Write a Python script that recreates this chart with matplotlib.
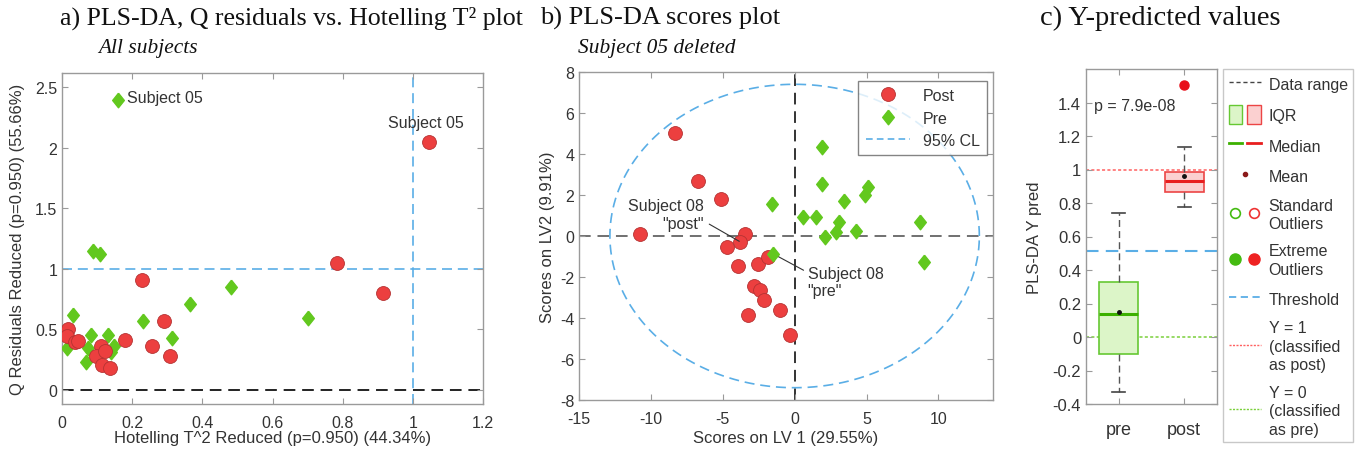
import matplotlib.pyplot as plt
import numpy as np
from matplotlib.patches import Patch
from matplotlib.lines import Line2D
from matplotlib.legend_handler import HandlerTuple

plt.rcParams['font.family'] = ['Liberation Sans', 'DejaVu Sans']
plt.rcParams['font.size'] = 11.5
plt.rcParams['axes.unicode_minus'] = False

RED = '#ec3f3f'
RED_EDGE = '#b53333'
GREEN = '#62c81e'
BLUE = '#5aaee6'
TXT = '#333333'
SPINE = '#9a9a9a'

# a) Q residuals vs Hotelling T^2 (all subjects)
a_post_x = [0.017, 0.015, 0.037, 0.047, 0.111, 0.096, 0.122, 0.114, 0.137,
            0.18, 0.228, 0.292, 0.256, 0.307, 0.784, 0.916, 1.046]
a_post_y = [0.50, 0.44, 0.39, 0.405, 0.36, 0.28, 0.32, 0.20, 0.18,
            0.41, 0.91, 0.57, 0.36, 0.275, 1.05, 0.80, 2.05]
a_pre_x = [0.16, 0.087, 0.108, 0.032, 0.015, 0.082, 0.075, 0.068, 0.132,
           0.147, 0.141, 0.23, 0.364, 0.313, 0.481, 0.70]
a_pre_y = [2.40, 1.15, 1.12, 0.62, 0.34, 0.455, 0.34, 0.23, 0.455,
           0.36, 0.31, 0.57, 0.71, 0.43, 0.85, 0.59]
q_limit = 1.0
t2_limit = 1.0

# b) scores plot (subject 05 deleted)
b_post_x = [-8.32, -6.73, -5.13, -10.77, -3.43, -3.78, -4.71, -3.96, -2.52,
            -1.82, -2.80, -2.40, -2.10, -1.0, -3.27, -0.30]
b_post_y = [5.04, 2.68, 1.79, 0.08, 0.08, -0.27, -0.54, -1.45, -1.35,
            -1.04, -2.44, -2.62, -3.14, -3.63, -3.87, -4.85]
b_pre_x = [1.91, 1.91, 5.13, 4.90, 3.40, 0.58, 1.52, 3.12, 2.88, 2.12,
           4.24, 8.69, 8.97, -1.59, -1.52]
b_pre_y = [4.34, 2.55, 2.40, 1.99, 1.69, 0.93, 0.93, 0.70, 0.19, -0.05,
           0.23, 0.66, -1.27, 1.58, -0.86]
cl_a, cl_b = 12.85, 7.4   # 95% confidence ellipse semi-axes
subj08_post = (-3.85, -0.26)
subj08_pre = (-1.52, -0.86)

# c) Y-predicted values
groups = ['pre', 'post']
q1 = [-0.10, 0.865]
med = [0.135, 0.93]
q3 = [0.33, 0.985]
whislo = [-0.33, 0.775]
whishi = [0.74, 1.135]
means = [0.15, 0.96]
fliers = [[], [1.505]]
threshold = 0.516

diamond = [(0, 1), (0.8, 0), (0, -1), (-0.8, 0), (0, 1)]

fig = plt.figure(figsize=(13.6, 4.64), dpi=100)


def style_axes(ax):
    for s in ax.spines.values():
        s.set_color(SPINE)
        s.set_linewidth(1.0)
    ax.tick_params(direction='in', top=True, right=True, length=4,
                   colors=TXT, labelsize=11.5)
    ax.tick_params(axis='both', color=SPINE)
    ax.tick_params(axis='x', pad=8)


# ---------- panel a ----------
ax1 = fig.add_axes([62 / 1360, 1 - 405 / 464, 421 / 1360, 331 / 464])
ax1.axhline(0, color='#222222', ls=(0, (6, 3.5)), lw=1.4, zorder=1)
ax1.axhline(q_limit, color=BLUE, ls=(0, (6, 3.5)), lw=1.2, zorder=1)
ax1.axvline(t2_limit, color=BLUE, ls=(0, (6, 3.5)), lw=1.2, zorder=1)
ax1.plot(a_pre_x, a_pre_y, ls='none', marker=diamond, ms=10.5, mfc=GREEN,
         mec=GREEN, zorder=3)
ax1.plot(a_post_x, a_post_y, ls='none', marker='o', ms=10, mfc=RED,
         mec=RED_EDGE, mew=0.6, zorder=3)
ax1.text(a_pre_x[0] + 0.025, a_pre_y[0] + 0.02, 'Subject 05', color=TXT,
         va='center', ha='left', fontsize=11.5)
ax1.text(a_post_x[-1] - 0.01, a_post_y[-1] + 0.16, 'Subject 05', color=TXT,
         va='center', ha='center', fontsize=11.5)
ax1.set_xlim(0, 1.2)
ax1.set_ylim(-0.12, 2.62)
ax1.set_xticks([0, 0.2, 0.4, 0.6, 0.8, 1, 1.2])
ax1.set_xticklabels(['0', '0.2', '0.4', '0.6', '0.8', '1', '1.2'])
ax1.set_yticks([0, 0.5, 1, 1.5, 2, 2.5])
ax1.set_yticklabels(['0', '0.5', '1', '1.5', '2', '2.5'])
ax1.set_xlabel('Hotelling T^2 Reduced (p=0.950) (44.34%)', color=TXT,
               fontsize=12)
ax1.set_ylabel('Q Residuals Reduced (p=0.950) (55.66%)', color=TXT,
               fontsize=12)
ax1.xaxis.set_label_coords(0.5, -0.08)
ax1.yaxis.set_label_coords(-0.088, 0.5)
style_axes(ax1)

# ---------- panel b ----------
ax2 = fig.add_axes([579 / 1360, 1 - 401 / 464, 414 / 1360, 328 / 464])
ax2.axhline(0, color='#707070', ls=(0, (6, 3.5)), lw=1.4, zorder=1)
ax2.axvline(0, color='#333333', ls=(0, (6, 3.5)), lw=1.4, zorder=1)
t = np.linspace(0, 2 * np.pi, 400)
ax2.plot(cl_a * np.cos(t), cl_b * np.sin(t), color=BLUE, ls=(0, (6, 3.5)),
         lw=1.2, zorder=1, label='95% CL')
hp, = ax2.plot(b_post_x, b_post_y, ls='none', marker='o', ms=10, mfc=RED,
               mec=RED_EDGE, mew=0.6, zorder=3, label='Post')
hr, = ax2.plot(b_pre_x, b_pre_y, ls='none', marker=diamond, ms=10.5,
               mfc=GREEN, mec=GREEN, zorder=4, label='Pre')
ax2.annotate('Subject 08\n"post"', xy=subj08_post, xytext=(-6.3, 1.04),
             ha='right', va='center', multialignment='right', color=TXT,
             fontsize=11.5,
             arrowprops=dict(arrowstyle='-', color='#333333', lw=0.8,
                             relpos=(1.0, 0.3), shrinkA=2, shrinkB=0))
ax2.annotate('Subject 08\n"pre"', xy=subj08_pre, xytext=(0.9, -2.25),
             ha='left', va='center', multialignment='left', color=TXT,
             fontsize=11.5,
             arrowprops=dict(arrowstyle='-', color='#333333', lw=0.8,
                             relpos=(0.0, 0.8), shrinkA=1, shrinkB=0))
ax2.set_xlim(-15, 13.8)
ax2.set_ylim(-8, 8)
ax2.set_xticks([-15, -10, -5, 0, 5, 10])
ax2.set_yticks(np.arange(-8, 9, 2))
ax2.set_xlabel('Scores on LV 1 (29.55%)', color=TXT, fontsize=12)
ax2.set_ylabel('Scores on LV2 (9.91%)', color=TXT, fontsize=12)
ax2.xaxis.set_label_coords(0.5, -0.09)
ax2.yaxis.set_label_coords(-0.058, 0.5)
style_axes(ax2)
ell_handle = Line2D([], [], color=BLUE, ls=(0, (4, 2.5)), lw=1.2)
leg2 = ax2.legend([hp, hr, ell_handle], ['Post', 'Pre', '95% CL'],
                  loc='upper right', fontsize=11.5, frameon=True,
                  fancybox=False, edgecolor='#666666', borderpad=0.45,
                  labelspacing=0.47, handlelength=2.8, borderaxespad=0,
                  bbox_to_anchor=(0.986, 0.973))
leg2.get_frame().set_linewidth(1.0)
for txt in leg2.get_texts():
    txt.set_color(TXT)

# ---------- panel c ----------
ax3 = fig.add_axes([1086 / 1360, 1 - 405 / 464, 131 / 1360, 335 / 464])
ax3.axhline(1, color='#ff6060', ls=(0, (2, 1.5)), lw=1.1, zorder=1)
ax3.axhline(0, color='#7ad03a', ls=(0, (2, 1.5)), lw=1.1, zorder=1)
ax3.axhline(threshold, color=BLUE, ls=(0, (6, 3.5)), lw=1.5, zorder=1)
stats = []
for i in range(2):
    stats.append(dict(label=groups[i], q1=q1[i], med=med[i], q3=q3[i],
                      whislo=whislo[i], whishi=whishi[i], mean=means[i],
                      fliers=fliers[i]))
bp = ax3.bxp(stats, positions=[1, 2], widths=0.6, patch_artist=True,
             showmeans=True, capwidths=0.2,
             whiskerprops=dict(color='#555555', ls=(0, (5, 3)), lw=1.0),
             capprops=dict(color='#444444', lw=1.2),
             meanprops=dict(marker='o', mfc='#111111', mec='#111111',
                            ms=2.5),
             flierprops=dict(marker='o', mfc='#e8101a', mec='#e8101a',
                             ms=6.5))
box_face = ['#dcf5c8', '#fbd0d0']
box_edge = ['#66c833', '#ec4545']
med_col = ['#3cb000', '#e81e1e']
for i in range(2):
    bp['boxes'][i].set(facecolor=box_face[i], edgecolor=box_edge[i], lw=1.2)
    bp['medians'][i].set(color=med_col[i], lw=2.2)
ax3.text(0.62, 1.385, 'p = 7.9e-08', color=TXT, fontsize=11.5, va='center')
ax3.set_xlim(0.5, 2.5)
ax3.set_ylim(-0.4, 1.6)
ax3.set_yticks(np.round(np.arange(-0.4, 1.41, 0.2), 1))
ax3.set_yticklabels(['-0.4', '-0.2', '0', '0.2', '0.4', '0.6', '0.8', '1',
                     '1.2', '1.4'])
ax3.set_ylabel('PLS-DA Y pred', color=TXT, fontsize=12)
ax3.yaxis.set_label_coords(-0.336, 0.5)
style_axes(ax3)
ax3.tick_params(axis='y', labelsize=12)
ax3.tick_params(axis='x', labelsize=13, pad=12)

h_range = Line2D([], [], color='#444444', ls=(0, (3, 2)), lw=1.0)
h_iqr = (Patch(facecolor=box_face[0], edgecolor=box_edge[0]),
         Patch(facecolor=box_face[1], edgecolor=box_edge[1]))
h_med = (Line2D([], [], color=med_col[0], lw=2),
         Line2D([], [], color=med_col[1], lw=2))
h_mean = Line2D([], [], ls='none', marker='o', ms=3, mfc='#8b1a1a',
                mec='#8b1a1a')
h_std = (Line2D([], [], ls='none', marker='o', ms=7, mfc='none',
                mec='#44bb11', mew=1.2),
         Line2D([], [], ls='none', marker='o', ms=7, mfc='none',
                mec='#ee3333', mew=1.2))
h_ext = (Line2D([], [], ls='none', marker='o', ms=8, mfc='#44bb11',
                mec='#44bb11'),
         Line2D([], [], ls='none', marker='o', ms=8, mfc='#ee2222',
                mec='#ee2222'))
h_thr = Line2D([], [], color=BLUE, ls=(0, (4, 2.5)), lw=1.3)
h_y1 = Line2D([], [], color='#ff6060', ls=(0, (1.5, 1)), lw=1.0)
h_y0 = Line2D([], [], color='#7ad03a', ls=(0, (1.5, 1)), lw=1.0)
leg3 = fig.legend([h_range, h_iqr, h_med, h_mean, h_std, h_ext, h_thr,
                   h_y1, h_y0],
                  ['Data range', 'IQR', 'Median', 'Mean',
                   'Standard\nOutliers', 'Extreme\nOutliers', 'Threshold',
                   'Y = 1\n(classified\nas post)',
                   'Y = 0\n(classified\nas pre)'],
                  handler_map={tuple: HandlerTuple(ndivide=None, pad=0.3)},
                  loc='upper left', bbox_to_anchor=(1223 / 1360, 1 - 70 / 464),
                  fontsize=11.5, frameon=True, fancybox=False,
                  edgecolor='#bbbbbb', handlelength=2.0, handleheight=1.4,
                  labelspacing=0.77, borderpad=0.35, handletextpad=0.5,
                  borderaxespad=0)
for txt in leg3.get_texts():
    txt.set_color(TXT)
    txt.set_linespacing(1.3)

# ---------- titles ----------
serif = ['Liberation Serif', 'DejaVu Serif']
fig.text(60 / 1360, 1 - 18 / 464, 'a) PLS-DA, Q residuals vs. Hotelling T² plot',
         family=serif, fontsize=18.6, va='center', ha='left', color='#111111')
fig.text(98 / 1360, 1 - 48 / 464, 'All subjects', family=serif,
         style='italic', fontsize=15.4, va='center', ha='left', color='#111111')
fig.text(540 / 1360, 1 - 18 / 464, 'b) PLS-DA scores plot', family=serif,
         fontsize=19, va='center', ha='left', color='#111111')
fig.text(578 / 1360, 1 - 48 / 464, 'Subject 05 deleted', family=serif,
         style='italic', fontsize=15.4, va='center', ha='left', color='#111111')
fig.text(1040 / 1360, 1 - 18 / 464, 'c) Y-predicted values', family=serif,
         fontsize=20.5, va='center', ha='left', color='#111111')

fig.savefig('out.png', dpi=100)
